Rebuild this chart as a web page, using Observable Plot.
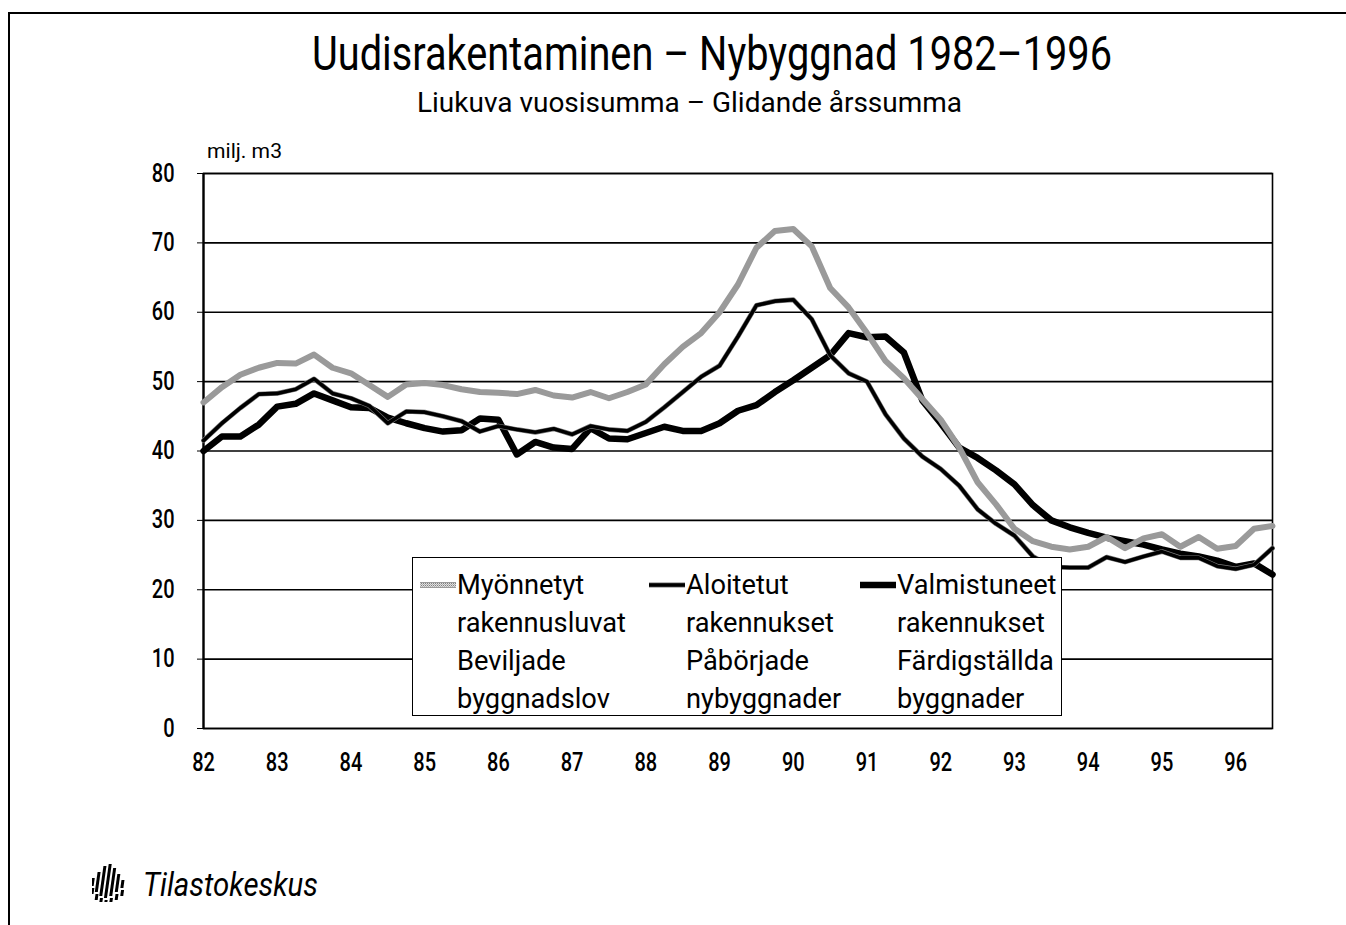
<!DOCTYPE html>
<html>
<head>
<meta charset="utf-8">
<script src="https://cdn.jsdelivr.net/npm/d3@7"></script>
<script src="https://cdn.jsdelivr.net/npm/@observablehq/plot@0.6"></script>
<style>
  html, body { margin: 0; padding: 0; background: #fff; }
  body { width: 1346px; height: 925px; position: relative; overflow: hidden;
         font-family: Roboto, "Liberation Sans", sans-serif; color: #000; }
  #pageframe { position: absolute; left: 8px; top: 12px; right: -4px; bottom: -4px;
               border-top: 2px solid #000; border-left: 2px solid #000; }
  .fit { position: absolute; white-space: nowrap; line-height: 1; display: inline-block; transform-origin: 0 0; }
  #title { left: 312px; top: 29px; font-size: 49px; }
  #subtitle { left: 417px; top: 89px; font-size: 28px; }
  #unit { left: 207px; top: 141px; font-size: 21px; }
  #chart { position: absolute; left: 0; top: 130px; }
  #legend { position: absolute; left: 412px; top: 557px; width: 648px; height: 157px;
            border: 1.5px solid #000; background: #fff; }
  .col { position: absolute; top: 8px; }
  .col svg { position: absolute; left: 0; top: 13px; }
  .col .txt { position: absolute; white-space: nowrap; font-size: 27px; line-height: 38px; transform-origin: 0 0; }
  #logo { position: absolute; left: 92px; top: 862px; }
  #logotext { left: 143px; top: 868px; font-style: italic; font-size: 33px; }
</style>
</head>
<body>
<div id="pageframe"></div>
<div id="title" class="fit">Uudisrakentaminen – Nybyggnad 1982–1996</div>
<div id="subtitle" class="fit">Liukuva vuosisumma – Glidande årssumma</div>
<div id="unit" class="fit">milj. m3</div>
<div id="chart"></div>
<div id="legend"></div>
<svg id="logo" width="40" height="40" viewBox="0 0 40 40"></svg>
<div id="logotext" class="fit">Tilastokeskus</div>
<script>
// ---- Data (quarterly, rolling annual sums, million m3) ----
const startYear = 1982;
const periodsPerYear = 4;
const yearTicks = [1982, 1983, 1984, 1985, 1986, 1987, 1988, 1989, 1990, 1991, 1992, 1993, 1994, 1995, 1996];
const yearTickLabels = ["82", "83", "84", "85", "86", "87", "88", "89", "90", "91", "92", "93", "94", "95", "96"];
const yTicks = [0, 10, 20, 30, 40, 50, 60, 70, 80];

const seriesLegend = [
  ["Myönnetyt", "rakennusluvat", "Beviljade", "byggnadslov"],
  ["Aloitetut", "rakennukset", "Påbörjade", "nybyggnader"],
  ["Valmistuneet", "rakennukset", "Färdigställda", "byggnader"]
];

// Myönnetyt rakennusluvat / Beviljade byggnadslov
const permits = [47.0, 49.2, 51.0, 52.0, 52.7, 52.6, 53.9, 52.0, 51.2, 49.5, 47.8, 49.6, 49.8, 49.5, 48.9,
  48.5, 48.4, 48.2, 48.8, 48.0, 47.7, 48.5, 47.6, 48.5, 49.6, 52.5, 55.0, 57.0, 60.0, 64.0, 69.3, 71.7,
  72.0, 69.5, 63.5, 60.7, 57.0, 53.0, 50.5, 47.5, 44.5, 40.5, 35.5, 32.3, 28.8, 27.0, 26.2, 25.8, 26.2,
  27.6, 26.0, 27.4, 28.0, 26.2, 27.6, 25.9, 26.3, 28.8, 29.2];
// Aloitetut rakennukset / Påbörjade nybyggnader
const starts = [41.5, 44.0, 46.2, 48.2, 48.3, 48.9, 50.4, 48.3, 47.6, 46.5, 44.0, 45.7, 45.6, 45.0, 44.3,
  42.8, 43.6, 43.1, 42.7, 43.2, 42.4, 43.6, 43.1, 42.9, 44.2, 46.3, 48.5, 50.7, 52.3, 56.5, 61.0, 61.6,
  61.8, 59.0, 53.8, 51.2, 50.0, 45.3, 41.8, 39.2, 37.4, 35.0, 31.6, 29.5, 27.8, 24.8, 23.3, 23.2, 23.2,
  24.7, 24.0, 24.8, 25.5, 24.6, 24.6, 23.4, 23.0, 23.6, 26.0];
// Valmistuneet rakennukset / Färdigställda byggnader
const completions = [40.0, 42.1, 42.1, 43.8, 46.4, 46.8, 48.3, 47.3, 46.3, 46.2, 44.8, 44.0, 43.3, 42.8, 43.0,
  44.7, 44.5, 39.5, 41.3, 40.5, 40.3, 43.3, 41.8, 41.7, 42.6, 43.5, 42.9, 42.9, 44.0, 45.8, 46.6, 48.5,
  50.2, 52.0, 53.8, 57.0, 56.4, 56.5, 54.2, 47.3, 44.0, 40.5, 39.0, 37.2, 35.2, 32.2, 30.0, 29.0, 28.2,
  27.5, 27.0, 26.5, 25.8, 25.2, 24.8, 24.2, 23.3, 23.8, 22.2];

const rows = permits.map((v, i) => ({
  t: startYear + i / periodsPerYear,
  permits: v, starts: starts[i], completions: completions[i]
}));

const chart = Plot.plot({
  width: 1346,
  height: 660,
  marginLeft: 203,
  marginRight: 74,
  marginTop: 43,
  marginBottom: 62,
  style: { fontFamily: "Roboto, sans-serif", fontSize: "25px", fontWeight: 500, color: "#000",
           background: "transparent", overflow: "visible" },
  x: { domain: [startYear, 1996.5], ticks: yearTicks, tickFormat: d => yearTickLabels[yearTicks.indexOf(d)],
       tickSize: 0, tickPadding: 25, label: null },
  y: { domain: [0, 80], ticks: yTicks, tickSize: 6, tickPadding: 23, label: null },
  marks: [
    Plot.ruleY(yTicks, { stroke: "#000", strokeWidth: 1.6 }),
    Plot.frame({ stroke: "#000", strokeWidth: 1.6 }),
    Plot.ruleX([startYear], { stroke: "#000", strokeWidth: 2.2 }),
    Plot.line(rows, { x: "t", y: "completions", stroke: "#000", strokeWidth: 6.5 }),
    Plot.line(rows, { x: "t", y: "starts", stroke: "#777", strokeWidth: 4.8 }),
    Plot.line(rows, { x: "t", y: "starts", stroke: "#000", strokeWidth: 3.6 }),
    Plot.line(rows, { x: "t", y: "permits", stroke: "#9a9a9a", strokeWidth: 6 }),
    Plot.line(rows, { x: "t", y: "permits", stroke: "#c4c4c4", strokeWidth: 4.2, ariaLabel: "permits-fill" })
  ]
});

// dithered texture for the permits line
const svg = d3.select(chart);
function addDither(sel, id) {
  const p = sel.append("pattern").attr("id", id).attr("patternUnits", "userSpaceOnUse").attr("width", 2).attr("height", 2);
  p.append("rect").attr("width", 2).attr("height", 2).attr("fill", "#e0e0e0");
  p.append("rect").attr("width", 1).attr("height", 1).attr("fill", "#808080");
  p.append("rect").attr("x", 1).attr("y", 1).attr("width", 1).attr("height", 1).attr("fill", "#b0b0b0");
}
addDither(svg.insert("defs", ":first-child"), "dither");
svg.selectAll('g[aria-label="permits-fill"]').attr("stroke", "url(#dither)")
  .selectAll("path").attr("stroke", "url(#dither)");

// condense tick labels horizontally (scale about each label's own anchor)
svg.selectAll('g[aria-label$="tick label"] text').each(function () {
  const t = d3.select(this);
  const tr = t.attr("transform") || "";
  t.attr("transform", `${tr} scale(0.8,1)`);
});

document.getElementById("chart").appendChild(chart);

// ---- fit HTML texts to reference widths (condensed look) ----
function fitWidth(el, target) {
  const w = el.getBoundingClientRect().width;
  el.style.transform = `scaleX(${target / w})`;
}
fitWidth(document.getElementById("title"), 800);
fitWidth(document.getElementById("subtitle"), 545);
fitWidth(document.getElementById("unit"), 75);
fitWidth(document.getElementById("logotext"), 175);

// ---- Legend ----
const legend = d3.select("#legend");
const colLeft = [6, 235, 446];
const swatchStyles = [
  [{ s: "#9a9a9a", w: 6 }, { s: "url(#dither2)", w: 4.2 }],
  [{ s: "#777", w: 4.8 }, { s: "#000", w: 3.6 }],
  [{ s: "#000", w: 6.5 }]
];
const legendTexts = [];
seriesLegend.forEach((lines, k) => {
  const col = legend.append("div").attr("class", "col").style("left", colLeft[k] + "px");
  const sw = col.append("svg").attr("width", 38).attr("height", 12);
  if (k === 0) addDither(sw.append("defs"), "dither2");
  swatchStyles[k].forEach(st => {
    sw.append("line").attr("x1", 1).attr("x2", 37).attr("y1", 6).attr("y2", 6)
      .attr("stroke", st.s).attr("stroke-width", st.w);
  });
  lines.forEach((t, j) => {
    legendTexts.push(col.append("div").attr("class", "txt").style("left", "38px").style("top", (j * 38) + "px").text(t).node());
  });
});
// reference: "rakennusluvat" is about 169 px wide
const refW = legendTexts[1].getBoundingClientRect().width;
const legendScale = 169 / refW;
legendTexts.forEach(el => { el.style.transform = `scaleX(${legendScale})`; });

// ---- Logo mark ----
const logo = d3.select("#logo");
const bars = [[2, 16, 8], [7, 10, 20], [12, 4, 30], [17, 2, 34], [22, 6, 28], [27, 12, 18], [32, 18, 8]];
bars.forEach(([x, y, h]) => {
  logo.append("rect").attr("x", x).attr("y", y).attr("width", 3).attr("height", h)
    .attr("fill", "#000").attr("transform", "skewX(-8)");
  logo.append("rect").attr("x", x + 1).attr("y", y + h + 2).attr("width", 3).attr("height", Math.max(0, Math.min(6, 38 - y - h)))
    .attr("fill", "#000").attr("transform", "skewX(-8)");
});
</script>
</body>
</html>
